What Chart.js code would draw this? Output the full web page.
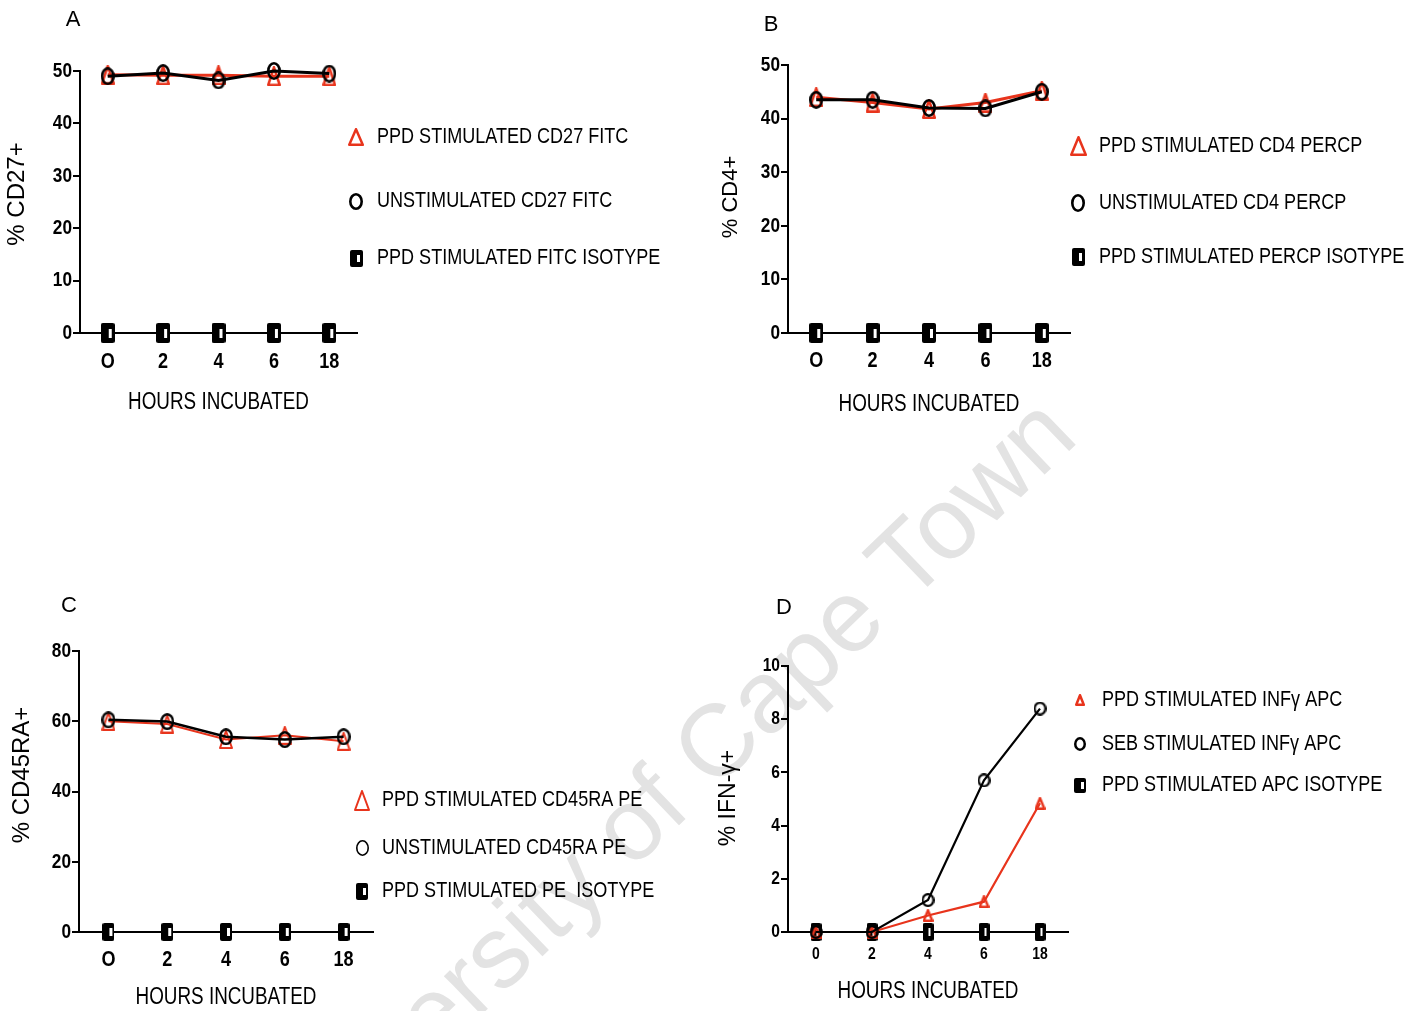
<!DOCTYPE html>
<html>
<head>
<meta charset="utf-8">
<script src="https://cdn.jsdelivr.net/npm/chart.js@4.4.1/dist/chart.umd.min.js"></script>
<style>
  html, body { margin: 0; padding: 0; background: #fff; }
  #page { position: relative; width: 1426px; height: 1011px; overflow: hidden; background: #fff; }
  #page canvas { position: absolute; left: 0; top: 0; }
  #mark {
    position: absolute; left: 660px; top: 795px;
    transform: translate(-50%, -50%) rotate(-43.8deg);
    font: 102px 'Liberation Sans', Arial, sans-serif;
    color: #e3e3e3; white-space: nowrap; line-height: 1;
  }
</style>
</head>
<body>
<div id="page">
  <div id="mark">University of Cape Town</div>
  <canvas id="cA" width="1426" height="1011"></canvas>
  <canvas id="cB" width="1426" height="1011"></canvas>
  <canvas id="cC" width="1426" height="1011"></canvas>
  <canvas id="cD" width="1426" height="1011"></canvas>
</div>
<script>
// ---- data ----
const hours = ['O', '2', '4', '6', '18'];
const hoursD = ['0', '2', '4', '6', '18'];

const cd27Ppd    = [49.3, 49.2, 49.2, 49.0, 49.0];
const cd27Unstim = [49.0, 49.6, 48.2, 50.0, 49.5];
const cd27Iso    = [0, 0, 0, 0, 0];

const cd4Ppd     = [44.0, 43.0, 41.8, 43.0, 45.2];
const cd4Unstim  = [43.5, 43.5, 42.0, 41.9, 45.0];
const cd4Iso     = [0, 0, 0, 0, 0];

const cd45Ppd    = [60.0, 59.2, 54.8, 56.0, 54.3];
const cd45Unstim = [60.4, 59.9, 55.6, 54.8, 55.6];
const cd45Iso    = [0, 0, 0, 0, 0];

const ifnPpd     = [0, 0, 0.62, 1.14, 4.84];
const ifnSeb     = [0, 0, 1.2, 5.7, 8.4];
const ifnIso     = [0, 0, 0, 0, 0];

// ---- styling helpers ----
const SANS = "'Liberation Sans', Arial, sans-serif";
const NARROW = SANS;          // drawn with a horizontal squeeze, see condense()
const SQUEEZE = 0.82;
const RED = '#e8341c';
const BLACK = '#000';

// Horizontal text squeeze for a narrow-grotesque look; keeps the anchor point fixed.
function condense(ctx) {
  const plain = ctx.fillText.bind(ctx);
  ctx._plainFillText = plain;
  ctx.fillText = function (text, x, y, maxWidth) {
    this.save();
    this.translate(x, y);
    this.scale(SQUEEZE, 1);
    if (maxWidth === undefined) plain(text, 0, 0);
    else plain(text, 0, 0, maxWidth / SQUEEZE);
    this.restore();
  };
  return ctx;
}

// Marker glyphs drawn into small canvases (used as point styles)
function marker(kind, w, h, color, lw) {
  const c = document.createElement('canvas');
  c.width = w; c.height = h;
  const g = c.getContext('2d');
  g.lineWidth = lw; g.strokeStyle = color; g.fillStyle = color;
  const p = lw / 2;
  if (kind === 'triangle') {
    g.lineJoin = 'round';
    g.beginPath();
    g.moveTo(w / 2, p);
    g.lineTo(w - p, h - p);
    g.lineTo(p, h - p);
    g.closePath();
    g.stroke();
  } else if (kind === 'circle') {
    g.beginPath();
    g.ellipse(w / 2, h / 2, w / 2 - p, h / 2 - p, 0, 0, Math.PI * 2);
    g.stroke();
  } else {
    const r = 2;
    g.beginPath();
    g.moveTo(r, 0); g.lineTo(w - r, 0); g.quadraticCurveTo(w, 0, w, r);
    g.lineTo(w, h - r); g.quadraticCurveTo(w, h, w - r, h);
    g.lineTo(r, h); g.quadraticCurveTo(0, h, 0, h - r);
    g.lineTo(0, r); g.quadraticCurveTo(0, 0, r, 0);
    g.closePath();
    g.fill();
    g.fillStyle = '#fff';
    g.fillRect(Math.round(w * 0.55), Math.round(h * 0.28), Math.max(2, Math.round(w * 0.22)), Math.round(h * 0.44));
  }
  return c;
}

function panel(id, p) {
  const g = p.geom;
  const textPlugin = {
    id: 'panelText',
    afterDraw(chart) {
      const ctx = chart.ctx;
      ctx.save();
      ctx.fillStyle = '#000';
      ctx.textAlign = 'center';
      ctx.textBaseline = 'middle';
      ctx.font = '22px ' + SANS;
      ctx._plainFillText(p.letter, p.letterAt[0], p.letterAt[1]);

      ctx.save();
      ctx.translate(p.yTitleAt[0], p.yTitleAt[1]);
      ctx.rotate(-Math.PI / 2);
      ctx.font = p.yTitleSize + 'px ' + SANS;
      ctx._plainFillText(p.yTitle, 0, 0);
      ctx.restore();

      ctx.font = '22px ' + NARROW;
      ctx.textAlign = 'left';
      chart.data.datasets.forEach((ds, i) => {
        const y = p.legend.rows[i];
        const m = p.legend.markers[i];
        ctx.drawImage(m, Math.round(p.legend.markerX - m.width / 2), Math.round(y - m.height / 2));
        ctx.fillText(ds.label, p.legend.textX, y);
      });
      ctx.restore();
    }
  };

  const datasets = p.series.map((s) => ({
    label: s.label,
    data: s.data,
    borderColor: s.color,
    borderWidth: s.lineWidth,
    pointStyle: s.point,
    pointRadius: 8,
    fill: false,
    tension: 0,
    clip: false,
    order: s.order
  }));

  const ctx = condense(document.getElementById(id).getContext('2d'));
  return new Chart(ctx, {
    type: 'line',
    data: { labels: p.labels, datasets },
    options: {
      responsive: false,
      animation: false,
      devicePixelRatio: 1,
      events: [],
      layout: {
        autoPadding: false,
        padding: { left: 0, top: g.top, right: 1426 - g.right, bottom: 1011 - g.xBottom }
      },
      plugins: { legend: { display: false }, tooltip: { enabled: false } },
      scales: {
        x: {
          type: 'category',
          offset: true,
          grid: { display: false, drawTicks: false },
          border: { display: true, color: '#000', width: 2 },
          ticks: {
            color: '#000', padding: g.xTickPad, maxRotation: 0, autoSkip: false,
            font: { family: NARROW, weight: 'bold', size: g.xTickSize, lineHeight: 1 }
          },
          title: {
            display: true, text: 'HOURS INCUBATED', color: '#000',
            font: { family: NARROW, size: 23, lineHeight: 1 },
            padding: { top: 0, bottom: 0 }
          },
          afterFit(s) { s.height = g.xBottom - g.bottom; }
        },
        y: {
          min: 0, max: p.yMax,
          ticks: {
            stepSize: p.yStep, color: '#000', padding: 1,
            font: { family: NARROW, weight: 'bold', size: g.yTickSize, lineHeight: 1 }
          },
          grid: { display: true, drawOnChartArea: false, drawTicks: true, tickLength: 7, color: '#000', lineWidth: 2 },
          border: { display: true, color: '#000', width: 2 },
          afterFit(s) { s.width = g.left; }
        }
      }
    },
    plugins: [textPlugin]
  });
}

// markers for panels A and B
const triBig = () => marker('triangle', 14, 20, RED, 2.5);
const cirBig = () => marker('circle', 14, 18, BLACK, 2.6);
const isoBig = () => marker('iso', 14, 20, BLACK, 2);

// ---- Panel A ----
panel('cA', {
  labels: hours, yMax: 50, yStep: 10,
  letter: 'A', letterAt: [73, 20],
  yTitle: '% CD27+', yTitleAt: [17, 194], yTitleSize: 24,
  geom: { left: 80, right: 357, top: 71, bottom: 333, xBottom: 414.5, xTickPad: 17.5, xTickSize: 22, yTickSize: 21 },
  series: [
    { label: 'PPD STIMULATED CD27 FITC', data: cd27Ppd, color: RED, lineWidth: 3, point: triBig(), order: 1 },
    { label: 'UNSTIMULATED CD27 FITC', data: cd27Unstim, color: BLACK, lineWidth: 3, point: cirBig(), order: 0 },
    { label: 'PPD STIMULATED FITC ISOTYPE', data: cd27Iso, color: BLACK, lineWidth: 2, point: isoBig(), order: 2 }
  ],
  legend: {
    markerX: 356, textX: 377, rows: [137, 201, 258],
    markers: [marker('triangle', 16, 18, RED, 2.5), marker('circle', 14, 17, BLACK, 2.6), marker('iso', 13, 17, BLACK, 2)]
  }
});

// ---- Panel B ----
panel('cB', {
  labels: hours, yMax: 50, yStep: 10,
  letter: 'B', letterAt: [771, 25],
  yTitle: '% CD4+', yTitleAt: [731, 197], yTitleSize: 22,
  geom: { left: 788, right: 1070, top: 65, bottom: 333, xBottom: 416.5, xTickPad: 16.5, xTickSize: 22, yTickSize: 21 },
  series: [
    { label: 'PPD STIMULATED CD4 PERCP', data: cd4Ppd, color: RED, lineWidth: 3, point: triBig(), order: 1 },
    { label: 'UNSTIMULATED CD4 PERCP', data: cd4Unstim, color: BLACK, lineWidth: 3, point: cirBig(), order: 0 },
    { label: 'PPD STIMULATED PERCP ISOTYPE', data: cd4Iso, color: BLACK, lineWidth: 2, point: isoBig(), order: 2 }
  ],
  legend: {
    markerX: 1078, textX: 1099, rows: [146, 203, 257],
    markers: [marker('triangle', 17, 20, RED, 2.5), marker('circle', 14, 18, BLACK, 2.6), marker('iso', 13, 18, BLACK, 2)]
  }
});

// ---- Panel C ----
panel('cC', {
  labels: hours, yMax: 80, yStep: 20,
  letter: 'C', letterAt: [69, 606],
  yTitle: '% CD45RA+', yTitleAt: [22, 775], yTitleSize: 24,
  geom: { left: 79, right: 373, top: 651, bottom: 932, xBottom: 1009.5, xTickPad: 16.5, xTickSize: 22, yTickSize: 21 },
  series: [
    { label: 'PPD STIMULATED CD45RA PE', data: cd45Ppd, color: RED, lineWidth: 2, point: marker('triangle', 14, 19, RED, 2), order: 1 },
    { label: 'UNSTIMULATED CD45RA PE', data: cd45Unstim, color: BLACK, lineWidth: 2.5, point: marker('circle', 14, 17, BLACK, 2.4), order: 0 },
    { label: 'PPD STIMULATED PE  ISOTYPE', data: cd45Iso, color: BLACK, lineWidth: 2, point: marker('iso', 12, 18, BLACK, 2), order: 2 }
  ],
  legend: {
    markerX: 362, textX: 382, rows: [800, 848, 891],
    markers: [marker('triangle', 16, 21, RED, 2), marker('circle', 13, 16, BLACK, 1.6), marker('iso', 12, 17, BLACK, 2)]
  }
});

// ---- Panel D ----
panel('cD', {
  labels: hoursD, yMax: 10, yStep: 2,
  letter: 'D', letterAt: [784, 608],
  yTitle: '% IFN-\u03b3+', yTitleAt: [729, 798], yTitleSize: 23,
  geom: { left: 788, right: 1068, top: 666, bottom: 932, xBottom: 1003.5, xTickPad: 14, xTickSize: 17, yTickSize: 19 },
  series: [
    { label: 'PPD STIMULATED INF\u03b3 APC', data: ifnPpd, color: RED, lineWidth: 2.2, point: marker('triangle', 11, 13, RED, 2.4), order: 1 },
    { label: 'SEB STIMULATED INF\u03b3 APC', data: ifnSeb, color: BLACK, lineWidth: 2.2, point: marker('circle', 13, 14, BLACK, 2.2), order: 0 },
    { label: 'PPD STIMULATED APC ISOTYPE', data: ifnIso, color: BLACK, lineWidth: 2, point: marker('iso', 11, 18, BLACK, 2), order: 2 }
  ],
  legend: {
    markerX: 1080, textX: 1102, rows: [700, 744, 785],
    markers: [marker('triangle', 10, 12, RED, 2.5), marker('circle', 12, 14, BLACK, 2.5), marker('iso', 12, 15, BLACK, 2)]
  }
});
</script>
</body>
</html>
